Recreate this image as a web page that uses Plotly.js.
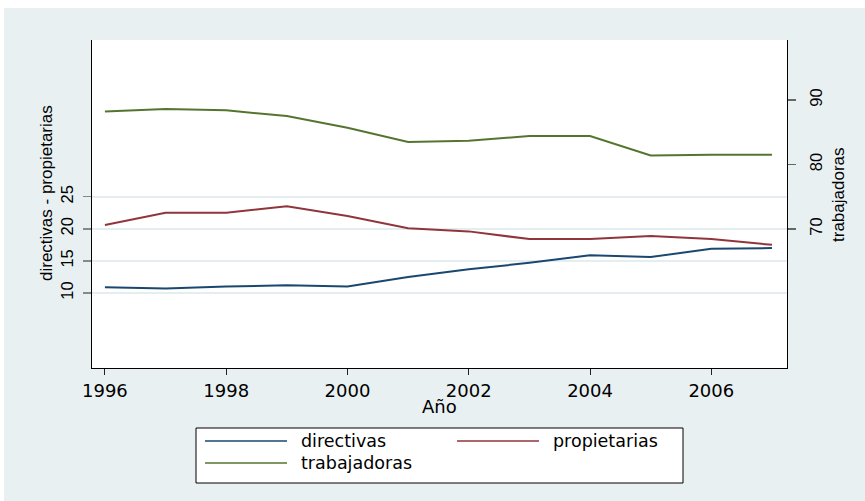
<!DOCTYPE html>
<html>
<head>
<meta charset="utf-8">
<script src="https://cdn.plot.ly/plotly-3.0.1.min.js"></script>
<style>
  html, body { margin: 0; padding: 0; background: #ffffff; }
  #chart { width: 865px; height: 501px; }
</style>
</head>
<body>
<div id="chart"></div>
<script>
// Años de la serie
var years = [1996, 1997, 1998, 1999, 2000, 2001, 2002, 2003, 2004, 2005, 2006, 2007];

// Porcentajes por categoría (eje izquierdo: directivas y propietarias; eje derecho: trabajadoras)
var directivas   = [10.9, 10.7, 11.0, 11.2, 11.0, 12.5, 13.7, 14.7, 15.9, 15.6, 16.9, 17.0];
var propietarias = [20.6, 22.5, 22.5, 23.5, 22.0, 20.1, 19.6, 18.4, 18.4, 18.9, 18.4, 17.5];
var trabajadoras = [88.2, 88.6, 88.4, 87.5, 85.7, 83.5, 83.7, 84.4, 84.4, 81.4, 81.5, 81.5];

var seriesNames  = ['directivas', 'propietarias', 'trabajadoras'];
var seriesValues = [directivas, propietarias, trabajadoras];
var seriesAxes   = ['y', 'y', 'y2'];
var seriesColors = ['#1a476f', '#90353b', '#55752f'];

// Etiquetas de los ejes
var xTicks      = [1996, 1998, 2000, 2002, 2004, 2006];
var yLeftTicks  = [10, 15, 20, 25];
var yRightTicks = [70, 80, 90];
var xTitle      = 'Año';
var yLeftTitle  = 'directivas - propietarias';
var yRightTitle = 'trabajadoras';

// Geometría del área de trazado (píxeles)
var W = 865, H = 501;
var ML = 92, MR = 78, MT = 40, MB = 133;
var PW = W - ML - MR, PH = H - MT - MB;
function px(x) { return (x - ML) / PW; }
function py(y) { return (H - MB - y) / PH; }

var bg = '#e9f0f2';
var gridColor = '#e4edf0';
var hFont = 'DejaVu Sans, Liberation Sans, Arial, sans-serif';
var vFont = 'Liberation Sans, Arial, sans-serif';

var traces = seriesNames.map(function (name, i) {
  return {
    type: 'scatter',
    mode: 'lines',
    name: name,
    x: years,
    y: seriesValues[i],
    yaxis: seriesAxes[i],
    line: { color: seriesColors[i], width: 2 },
    showlegend: false,
    hoverinfo: 'x+y+name'
  };
});

var shapes = [
  // franjas blancas del borde exterior
  { type: 'rect', xref: 'paper', yref: 'paper', x0: -0.2, x1: 1.2, y0: py(8), y1: 1.3,
    fillcolor: '#ffffff', line: { width: 0 }, layer: 'above' },
  { type: 'rect', xref: 'paper', yref: 'paper', x0: -0.3, x1: px(4), y0: -0.5, y1: 1.3,
    fillcolor: '#ffffff', line: { width: 0 }, layer: 'above' }
];

var annotations = [
  { text: yLeftTitle, textangle: -90, xref: 'paper', yref: 'paper', x: px(46), y: py(193),
    xanchor: 'center', yanchor: 'middle', showarrow: false, font: { family: vFont, size: 17, color: '#000' } },
  { text: yRightTitle, textangle: -90, xref: 'paper', yref: 'paper', x: px(838), y: py(194),
    xanchor: 'center', yanchor: 'middle', showarrow: false, font: { family: vFont, size: 17, color: '#000' } },
  { text: xTitle, xref: 'paper', yref: 'paper', x: px(439.5), y: py(406),
    xanchor: 'center', yanchor: 'middle', showarrow: false, font: { family: hFont, size: 18, color: '#000' } }
];

// Leyenda dibujada a mano: dos columnas, líneas largas
var legBox = { x0: 196, x1: 683, y0: 428, y1: 483 };
shapes.push({ type: 'rect', xref: 'paper', yref: 'paper',
  x0: px(legBox.x0), x1: px(legBox.x1), y0: py(legBox.y1), y1: py(legBox.y0),
  fillcolor: '#ffffff', line: { color: '#000000', width: 1 }, layer: 'above' });
var colX = [205, 457];
var rowY = [441, 463];
seriesNames.forEach(function (name, i) {
  var col = i % 2, row = Math.floor(i / 2);
  var lx = colX[col], ly = rowY[row];
  shapes.push({ type: 'line', xref: 'paper', yref: 'paper',
    x0: px(lx), x1: px(lx + 82), y0: py(ly), y1: py(ly),
    line: { color: seriesColors[i], width: 1.5 }, layer: 'above' });
  annotations.push({ text: name, xref: 'paper', yref: 'paper', x: px(lx + 94), y: py(ly),
    xanchor: 'left', yanchor: 'middle', showarrow: false,
    font: { family: hFont, size: 17.5, color: '#000' } });
});

var layout = {
  width: W, height: H,
  margin: { l: ML, r: MR, t: MT, b: MB, pad: 0 },
  paper_bgcolor: bg,
  plot_bgcolor: '#ffffff',
  showlegend: false,
  xaxis: {
    range: [1995.787, 2007.248],
    tickvals: xTicks,
    ticktext: xTicks.map(String),
    ticks: 'outside', ticklen: 6, tickwidth: 1, tickcolor: '#222',
    showline: true, linecolor: '#000', linewidth: 1,
    showgrid: false, zeroline: false,
    ticklabelstandoff: 0,
    tickfont: { family: hFont, size: 18, color: '#000' }
  },
  yaxis: {
    range: [-1.68, 49.41],
    tickvals: yLeftTicks,
    ticktext: yLeftTicks.map(String),
    tickangle: -90,
    ticks: 'outside', ticklen: 8, tickwidth: 1.5, tickcolor: '#888',
    showline: true, linecolor: '#000', linewidth: 1,
    showgrid: true, gridcolor: gridColor, gridwidth: 2,
    zeroline: false,
    ticklabelstandoff: 3,
    tickfont: { family: vFont, size: 16.5, color: '#000' }
  },
  yaxis2: {
    overlaying: 'y', side: 'right',
    range: [48.45, 99.30],
    tickvals: yRightTicks,
    ticktext: yRightTicks.map(String),
    tickangle: -90,
    ticks: 'outside', ticklen: 8, tickwidth: 1.5, tickcolor: '#666',
    showline: true, linecolor: '#000', linewidth: 1,
    showgrid: false, zeroline: false,
    ticklabelstandoff: 6,
    tickfont: { family: vFont, size: 16.5, color: '#000' }
  },
  shapes: shapes,
  annotations: annotations
};

Plotly.newPlot('chart', traces, layout, { displayModeBar: false, staticPlot: true });
</script>
</body>
</html>
